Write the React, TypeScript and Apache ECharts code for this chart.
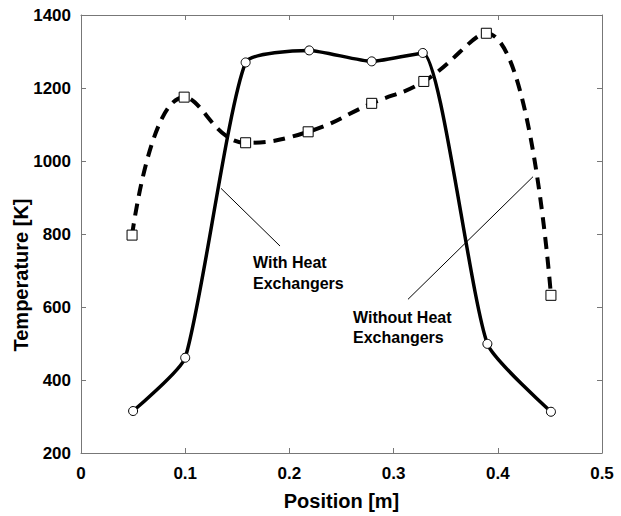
import React, { useEffect, useRef } from "react";
import * as echarts from "echarts";

const withHXPos = [0.05, 0.1, 0.158, 0.219, 0.279, 0.328, 0.39, 0.451];
const withHXTemp = [315, 461, 1270, 1303, 1273, 1296, 499, 313];
const withoutHXPos = [0.049, 0.099, 0.158, 0.218, 0.279, 0.329, 0.389, 0.451];
const withoutHXTemp = [797, 1175, 1050, 1080, 1158, 1218, 1350, 632];
const withLeader = [[0.1344, 925], [0.191, 767]];
const withoutLeader = [[0.3138, 621], [0.4338, 957]];

const FONT = "'Liberation Sans', Arial, sans-serif";

export default function App() {
  const ref = useRef<HTMLDivElement>(null);
  useEffect(() => {
    document.body.style.margin = "0";
    const chart = echarts.init(ref.current!, null, { renderer: "svg" });
    const frame = "#777";
    const baseX = {
      type: "value" as const,
      min: 0,
      max: 0.5,
      interval: 0.1,
      splitLine: { show: false },
      axisLine: { show: true, onZero: false, lineStyle: { color: frame, width: 1 } },
      axisTick: { show: true, inside: true, length: 5, lineStyle: { color: frame } },
    };
    const baseY = {
      type: "value" as const,
      min: 200,
      max: 1400,
      interval: 200,
      splitLine: { show: false },
      axisLine: { show: true, onZero: false, lineStyle: { color: frame, width: 1 } },
      axisTick: { show: true, inside: true, length: 5, lineStyle: { color: frame } },
    };
    chart.setOption({
      animation: false,
      backgroundColor: "#fff",
      grid: { left: 81, right: 19, top: 15, bottom: 59, containLabel: false },
      xAxis: [
        {
          ...baseX,
          position: "bottom",
          name: "Position [m]",
          nameLocation: "middle",
          nameGap: 38,
          nameTextStyle: { fontFamily: FONT, fontWeight: "bold", fontSize: 20, color: "#000" },
          axisLabel: { fontFamily: FONT, fontWeight: "bold", fontSize: 17, color: "#000", margin: 12, formatter: (v: number) => String(+v.toFixed(1)) },
        },
        { ...baseX, position: "top", axisLabel: { show: false } },
      ],
      yAxis: [
        {
          ...baseY,
          position: "left",
          axisLabel: { fontFamily: FONT, fontWeight: "bold", fontSize: 17, color: "#000", margin: 10, formatter: (v: number) => String(v) },
        },
        { ...baseY, position: "right", axisLabel: { show: false } },
      ],
      series: [
        {
          name: "Without Heat Exchangers",
          type: "line",
          data: withoutHXPos.map((x, i) => [x, withoutHXTemp[i]]),
          smooth: 0.45,
          symbol: "rect",
          symbolSize: 10,
          lineStyle: { color: "#000", width: 4, type: [12, 8] },
          itemStyle: { color: "#fff", borderColor: "#000", borderWidth: 1 },
          z: 3,
        },
        {
          name: "With Heat Exchangers",
          type: "line",
          data: withHXPos.map((x, i) => [x, withHXTemp[i]]),
          smooth: 0.18,
          symbol: "circle",
          symbolSize: 9,
          lineStyle: { color: "#000", width: 3.5 },
          itemStyle: { color: "#fff", borderColor: "#000", borderWidth: 1 },
          z: 4,
          markLine: {
            silent: true,
            symbol: "none",
            label: { show: false },
            lineStyle: { color: "#000", width: 1, type: "solid" },
            data: [
              [{ coord: withLeader[0] }, { coord: withLeader[1] }],
              [{ coord: withoutLeader[0] }, { coord: withoutLeader[1] }],
            ],
          },
        },
      ],
      graphic: [
        {
          type: "text",
          x: 21,
          y: 275,
          rotation: Math.PI / 2,
          style: { text: "Temperature [K]", font: `bold 20px ${FONT}`, fill: "#000", align: "center", verticalAlign: "middle" },
        },
        {
          type: "text",
          left: 253,
          top: 252,
          style: { text: "With Heat\nExchangers", font: `bold 16px ${FONT}`, fill: "#000", lineHeight: 21 },
        },
        {
          type: "text",
          left: 353,
          top: 307,
          style: { text: "Without Heat\nExchangers", font: `bold 16px ${FONT}`, fill: "#000", lineHeight: 20 },
        },
      ],
    });
    return () => chart.dispose();
  }, []);
  return <div ref={ref} style={{ width: 621, height: 516 }} />;
}
